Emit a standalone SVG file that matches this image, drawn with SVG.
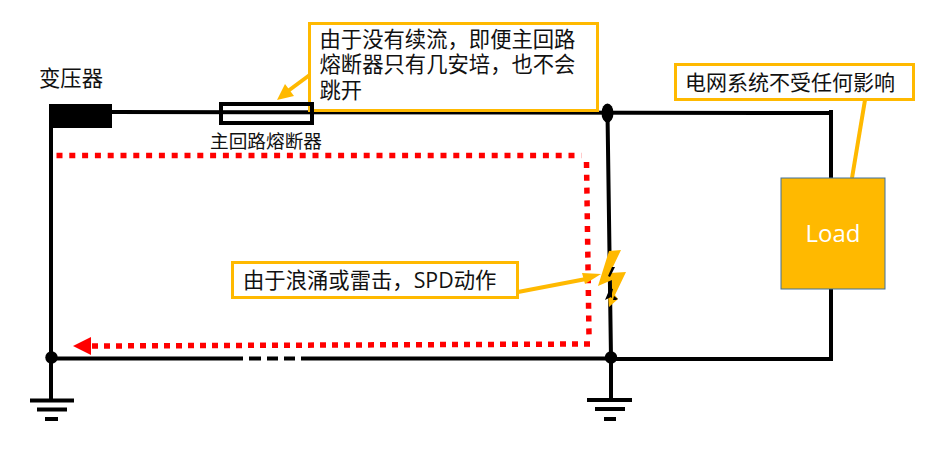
<svg xmlns="http://www.w3.org/2000/svg" width="925" height="452" viewBox="0 0 925 452">
<style>
.w{fill:none;stroke:#000;stroke-width:4}
.g{fill:#000}
.call{fill:#fff;stroke:#FFB900;stroke-width:3}
.ol{fill:none;stroke:#FFB900;stroke-width:4}
.o{fill:#FFB900}
.r{fill:none;stroke:#f00;stroke-width:5.500}
text{font-family:"Open Sans","Noto Sans CJK SC",sans-serif;font-size:21.330px;fill:#111}
</style>
<rect width="925" height="452" fill="#fff"/>
<g id="connectors">
<path class="w" d="M112 112L831 113M831 110V178M831 289V359H611M611 358.500H301"/>
<path class="w" d="M243 358.500H51M51 128V400M607.500 113L611 358V400"/>
<path class="w" d="M249 358.500H261M267 358.500H278M284 358.500H295"/>
<path class="r" stroke-dasharray="6 6.800" d="M56.500 155.500H581.500"/>
<path class="r" stroke-dasharray="6 6.800" d="M586.500 162L589 336"/>
<path class="r" stroke-dasharray="6 6" d="M590 344L91 346"/>
<polygon fill="#f00" points="73,346 91,337 91,355"/>
<path class="ol" d="M518 292L586 279"/>
<polygon class="o" points="601,274 582,273 585,284"/>
<path class="ol" d="M311 74L288 91"/>
<polygon class="o" points="277,100 285,84 294,96"/>
<path class="ol" d="M865 100L852 178"/>
</g>
<g id="transformer">
<rect class="g" x="49" y="104" width="63" height="24"/>
<text x="39" y="86">变压器</text>
</g>
<g id="note-fuse">
<rect class="call" x="309.500" y="23.500" width="288" height="87"/>
<text x="319.500" y="47">由于没有续流，即便主回路</text>
<text x="319.500" y="72">熔断器只有几安培，也不会</text>
<text x="319.500" y="98">跳开</text>
</g>
<g id="fuse">
<rect x="221" y="104" width="91" height="19" fill="none" stroke="#000" stroke-width="4"/>
<text x="210" y="148" style="font-size:18.670px">主回路熔断器</text>
</g>
<g id="junction-top"><ellipse class="g" cx="607.500" cy="113" rx="6" ry="9.500"/></g>
<g id="junction-left"><circle class="g" cx="51.500" cy="357.500" r="6.200"/></g>
<g id="junction-right"><circle class="g" cx="611" cy="357.500" r="6.200"/></g>
<g id="ground-left">
<rect class="g" x="30" y="398.500" width="44" height="4"/>
<rect class="g" x="37" y="407.500" width="30" height="4"/>
<rect class="g" x="45" y="417" width="13" height="4"/>
</g>
<g id="ground-right">
<rect class="g" x="587" y="398" width="45" height="4"/>
<rect class="g" x="595" y="407" width="30" height="4"/>
<rect class="g" x="604" y="417" width="12" height="4"/>
</g>
<g id="load">
<rect x="781" y="178" width="104" height="111" fill="#FFB900" stroke="#41719C"/>
<text x="833" y="242" text-anchor="middle" style="font-size:24px;fill:#fff">Load</text>
</g>
<g id="spd">
<polygon class="o" points="609,251 621,250 610,273 626,272 615,295 618,299 609,307 608,295 612,298 612,280 598,286"/>
<polygon class="g" points="612,267 615,267 610,277 608,276"/>
<polygon class="g" points="610,288 613,289 611,297 605,300"/>
<polygon class="g" points="614,296 618,299 616,300 613,300"/>
</g>
<g id="note-grid">
<rect class="call" x="675.500" y="64.500" width="238" height="35"/>
<text x="685" y="90" style="font-size:21px">电网系统不受任何影响</text>
</g>
<g id="note-spd">
<rect class="call" x="232.500" y="262.500" width="285" height="35"/>
<text x="243" y="288">由于浪涌或雷击，SPD动作</text>
</g>
</svg>
